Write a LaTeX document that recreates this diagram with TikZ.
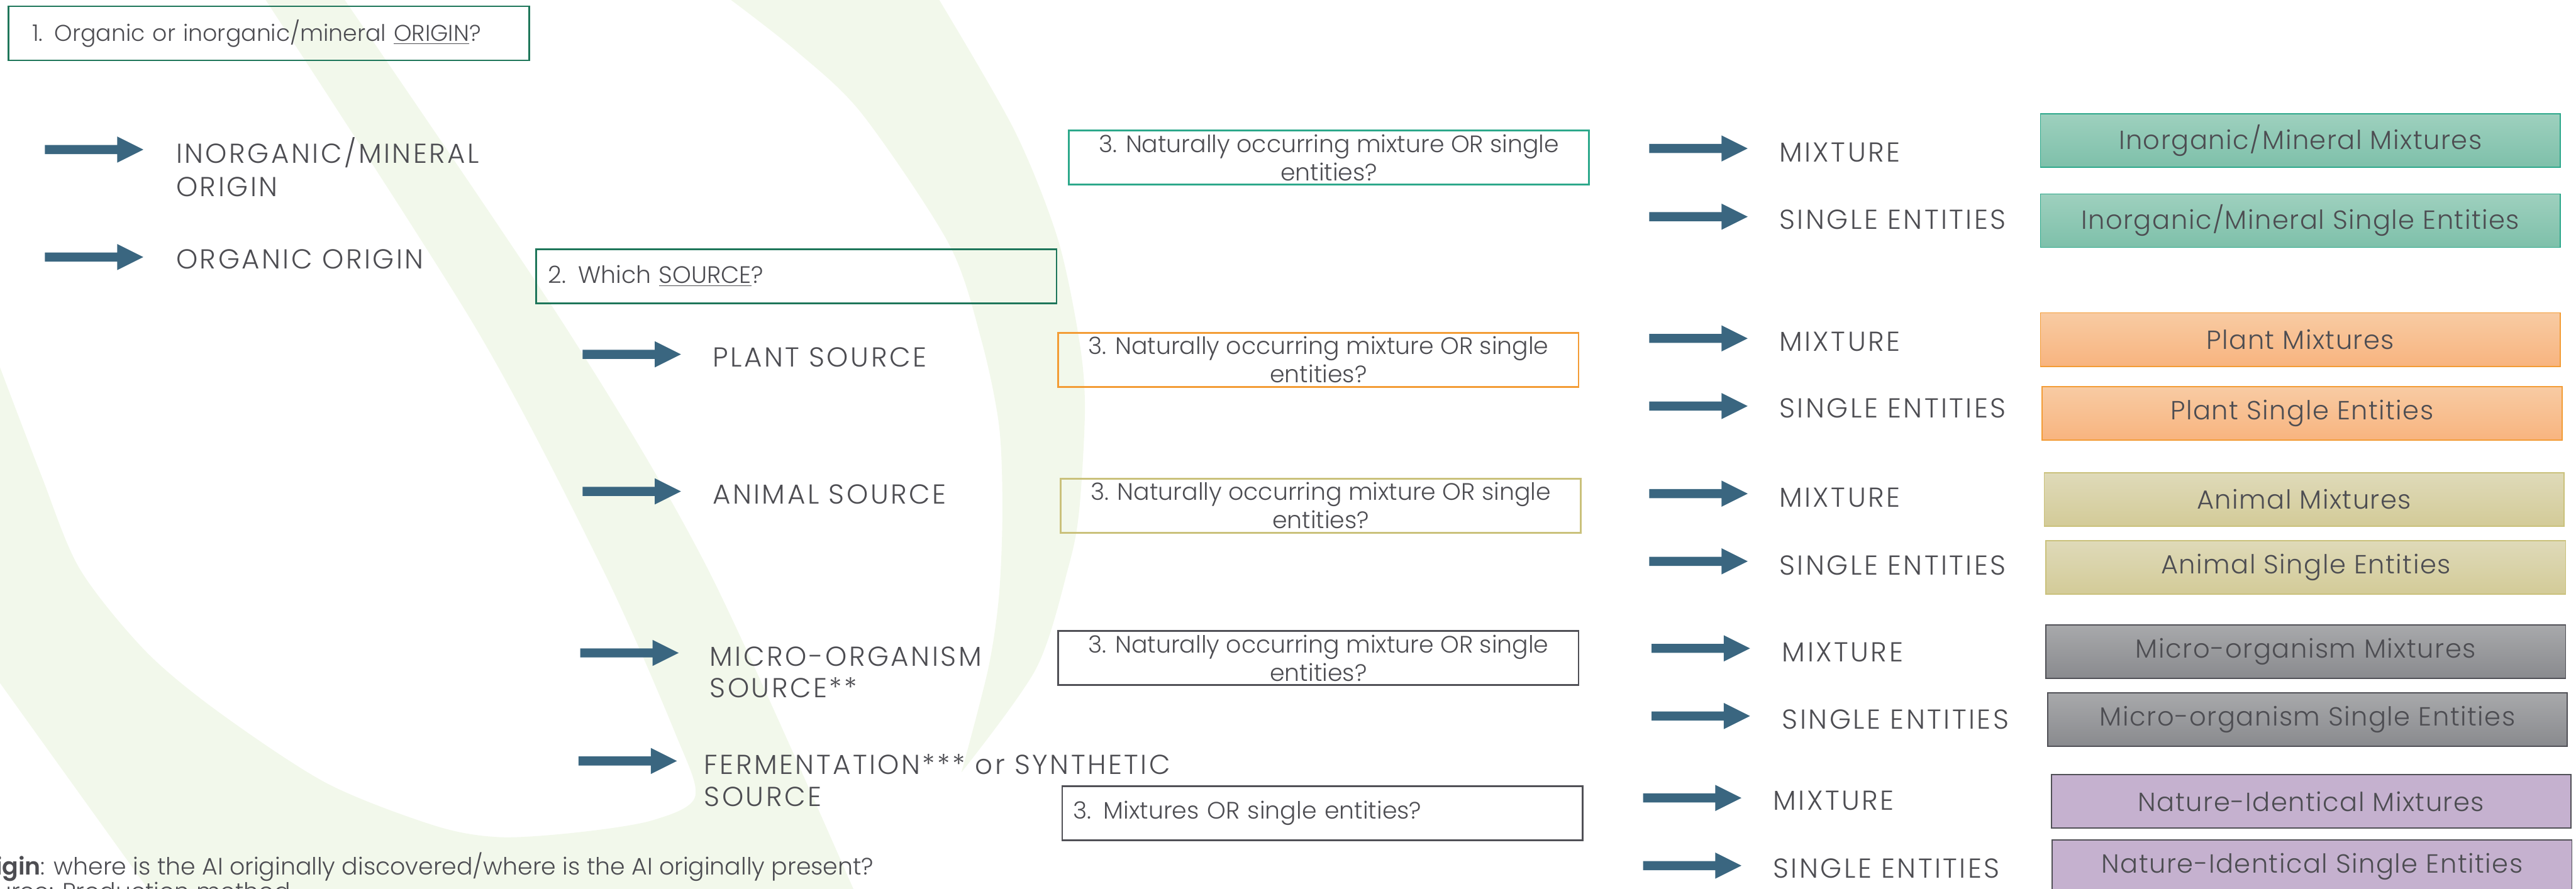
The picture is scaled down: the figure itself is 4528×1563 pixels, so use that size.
\documentclass[tikz,border=0pt]{standalone}
\usepackage{fontspec}
\setmainfont{Poppins}[UprightFont=* Light, BoldFont=* SemiBold]
\newfontfamily\capsfont{Poppins}[UprightFont=* Light, LetterSpace=8]
\newfontfamily\boxfont{Poppins}[UprightFont=* Light, LetterSpace=3.5]

\definecolor{leaf}{HTML}{F2F8EB}
\definecolor{txtgray}{HTML}{4D4D52}
\definecolor{arrowblue}{HTML}{3A6680}
\definecolor{darkgreen}{HTML}{1E765A}
\definecolor{tealline}{HTML}{2DA88B}
\definecolor{orangeline}{HTML}{F39C35}
\definecolor{khakiline}{HTML}{CAC17B}
\definecolor{grayline}{HTML}{505056}
\definecolor{tealtop}{HTML}{9ED0BE}
\definecolor{tealbot}{HTML}{7EC0AA}
\definecolor{orangetop}{HTML}{F8CBA3}
\definecolor{orangebot}{HTML}{F8B47F}
\definecolor{khakitop}{HTML}{DFDAB9}
\definecolor{khakibot}{HTML}{D3CB98}
\definecolor{graytop}{HTML}{A8A9AB}
\definecolor{graybot}{HTML}{898A8E}
\definecolor{lilac}{HTML}{C5B1CF}

\begin{document}
\begin{tikzpicture}[x=0.01cm, y=-0.01cm,
  lbl/.style={anchor=base west, inner sep=0, text=txtgray, align=left,
    font=\capsfont\fontsize{13.7}{16.5}\selectfont},
  qbox/.style={draw=#1, line width=0.03cm, minimum width=9.14cm, minimum height=0.95cm,
    inner sep=0, text=txtgray, align=center, font=\fontsize{11.9}{14.2}\selectfont},
  headbox/.style={draw=darkgreen, line width=0.03cm, minimum height=0.95cm,
    inner ysep=0, text=txtgray, align=left},
  rbox/.style n args={3}{draw=#3, top color=#1, bottom color=#2, line width=0.02cm,
    minimum width=9.13cm, minimum height=0.94cm, inner sep=0, text=txtgray,
    font=\boxfont\fontsize{13.1}{15}\selectfont},
  note/.style={anchor=base west, inner sep=0, text=txtgray, font=\fontsize{11.9}{14}\selectfont},
  blockarrow/.pic={\fill[arrowblue] (0,-8) -- (127,-8) -- (127,-23) -- (173,0)
    -- (127,23) -- (127,8) -- (0,8) -- cycle;}
]
\useasboundingbox (0,0) rectangle (4528,1563);

\begin{scope}
\clip (0,0) rectangle (4528,1563);
% leaf-shaped background band
\fill[leaf]
  plot[smooth] coordinates {(467,0) (837,578) (1059,1000) (1186,1287) (1222,1400)
    (1148,1442) (1020,1463) (880,1472) (765,1452) (574,1377) (383,1251) (255,1144)
    (140,1000) (73,837) (0,646)}
  -- (0,1201) -- (260,1563) -- (1500,1563)
  -- plot[smooth] coordinates {(1500,1563) (1244,1000) (996,578) (606,0)}
  -- cycle;
% crescent
\fill[leaf]
  plot[smooth] coordinates {(1285,0) (1400,90) (1515,200) (1668,429) (1725,598)
    (1756,748) (1762,897) (1756,1047) (1737,1176) (1690,1358)}
  -- plot[smooth] coordinates {(1690,1358) (1821,1176) (1878,997) (1897,897)
    (1907,718) (1897,598) (1859,419) (1783,229) (1651,0)}
  -- cycle;

% footnotes
\node[note] (note1) at (-58,1538) {\textbf{Origin}: where is the AI originally discovered/where is the AI originally present?};
\node[note] (note2) at (-58,1582) {Source: Production method};
\end{scope}

% step 1
\node[headbox, text width=8.75cm, inner xsep=0.2cm,
  font=\fontsize{11.4}{14}\selectfont] (q1) at (472.5,58.5)
  {\hspace*{0.22cm}1. Organic or inorganic/mineral \underline{ORIGIN}?};
\pic (a1) at (79,263) {blockarrow};
\pic (a2) at (79,452) {blockarrow};
\node[lbl] (inorg) at (309,345) {INORGANIC/MINERAL\\ORIGIN};
\node[lbl] (org) at (309,473) {ORGANIC ORIGIN};

% step 2
\node[headbox, text width=8.72cm, inner xsep=0.21cm,
  font=\fontsize{11.9}{14}\selectfont] (q2) at (1400,485.5)
  {2. Which \underline{SOURCE}?};
\pic (b1) at (1024,623) {blockarrow};
\pic (b2) at (1024,864) {blockarrow};
\pic (b3) at (1020,1148) {blockarrow};
\pic (b4) at (1017,1338) {blockarrow};
\node[lbl] (plant) at (1252,645) {PLANT SOURCE};
\node[lbl] (animal) at (1252,886) {ANIMAL SOURCE};
\node[lbl, font=\capsfont\fontsize{13.7}{16}\selectfont] (micro) at (1247,1227) {MICRO-ORGANISM\\SOURCE**};
\node[lbl, font=\capsfont\fontsize{13.7}{16.2}\selectfont] (ferm) at (1237,1418) {FERMENTATION*** or SYNTHETIC\\SOURCE};

% step 3
\node[qbox=tealline] (q3a) at (2336,277) {3. Naturally occurring mixture OR single\\entities?};
\node[qbox=orangeline] (q3b) at (2317.5,632.5) {3. Naturally occurring mixture OR single\\entities?};
\node[qbox=khakiline] (q3c) at (2321.5,889) {3. Naturally occurring mixture OR single\\entities?};
\node[qbox=grayline] (q3d) at (2317.5,1157) {3. Naturally occurring mixture OR single\\entities?};
\node[qbox=grayline, text width=8.75cm, inner xsep=0.19cm, align=left] (q3e) at (2324.5,1430) {3. Mixtures OR single entities?};

% outcome arrows
\pic (c1) at (2899,261) {blockarrow};
\pic (c2) at (2899,381) {blockarrow};
\pic (c3) at (2899,595) {blockarrow};
\pic (c4) at (2899,714) {blockarrow};
\pic (c5) at (2899,868) {blockarrow};
\pic (c6) at (2899,987) {blockarrow};
\pic (c7) at (2903,1140) {blockarrow};
\pic (c8) at (2903,1259) {blockarrow};
\pic (c9) at (2888,1403) {blockarrow};
\pic (c10) at (2888,1522) {blockarrow};

\node[lbl] (m1) at (3127,285) {MIXTURE};
\node[lbl] (s1) at (3127,403) {SINGLE ENTITIES};
\node[lbl] (m2) at (3127,617) {MIXTURE};
\node[lbl] (s2) at (3127,735) {SINGLE ENTITIES};
\node[lbl] (m3) at (3127,891) {MIXTURE};
\node[lbl] (s3) at (3127,1011) {SINGLE ENTITIES};
\node[lbl] (m4) at (3132,1163) {MIXTURE};
\node[lbl] (s4) at (3132,1282) {SINGLE ENTITIES};
\node[lbl] (m5) at (3116,1424) {MIXTURE};
\node[lbl] (s5) at (3116,1544) {SINGLE ENTITIES};

% categories
\node[rbox={tealtop}{tealbot}{tealline}] (r1) at (4043.5,247) {Inorganic/Mineral Mixtures};
\node[rbox={tealtop}{tealbot}{tealline}] (r2) at (4043.5,388) {Inorganic/Mineral Single Entities};
\node[rbox={orangetop}{orangebot}{orangeline}] (r3) at (4043.5,597) {Plant Mixtures};
\node[rbox={orangetop}{orangebot}{orangeline}] (r4) at (4046.5,727) {Plant Single Entities};
\node[rbox={khakitop}{khakibot}{khakiline}] (r5) at (4050,878) {Animal Mixtures};
\node[rbox={khakitop}{khakibot}{khakiline}] (r6) at (4053,997.5) {Animal Single Entities};
\node[rbox={graytop}{graybot}{grayline}] (r7) at (4053,1146) {Micro-organism Mixtures};
\node[rbox={graytop}{graybot}{grayline}] (r8) at (4056,1265) {Micro-organism Single Entities};
\node[rbox={lilac}{lilac}{grayline}] (r9) at (4062.5,1409) {Nature-Identical Mixtures};
\node[rbox={lilac}{lilac}{grayline}] (r10) at (4064,1524) {Nature-Identical Single Entities};
\end{tikzpicture}
\end{document}
